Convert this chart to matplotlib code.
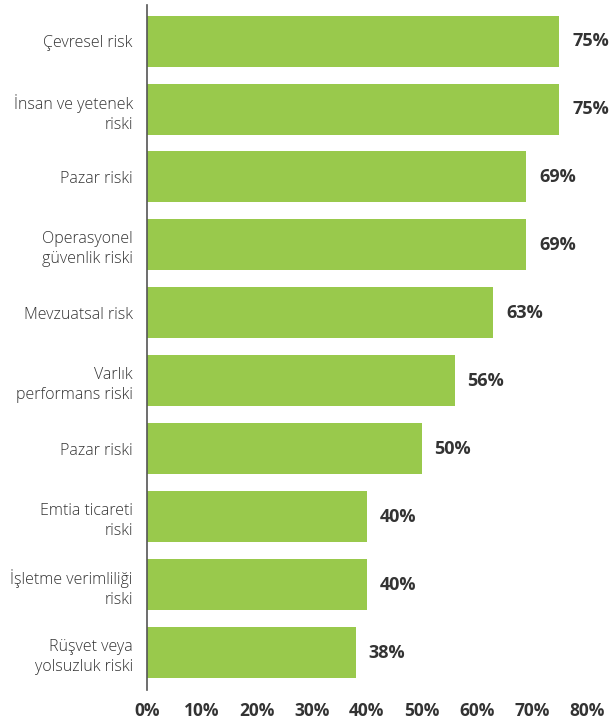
import matplotlib.pyplot as plt

# risk categories and share of respondents (%)
categories = [
    "Çevresel risk",
    "İnsan ve yetenek\nriski",
    "Pazar riski",
    "Operasyonel\ngüvenlik riski",
    "Mevzuatsal risk",
    "Varlık\nperformans riski",
    "Pazar riski",
    "Emtia ticareti\nriski",
    "İşletme verimliliği\nriski",
    "Rüşvet veya\nyolsuzluk riski",
]
values = [75, 75, 69, 69, 63, 56, 50, 40, 40, 38]
xticks = [0, 10, 20, 30, 40, 50, 60, 70, 80]

bar_color = "#99c94c"
text_color = "#333333"

plt.rcParams["font.family"] = ["Open Sans", "DejaVu Sans"]

fig = plt.figure(figsize=(6.14, 7.24), dpi=100)
ax = fig.add_axes([0.239, 0.047, 0.717, 0.946])

ypos = list(range(len(categories)))
ax.barh(ypos, values, height=0.75, color=bar_color)

for y, v in zip(ypos, values):
    ax.text(v + 2.3, y, f"{v}%", va="center", ha="left",
            fontsize=13, fontweight="bold", color=text_color)

ax.set_xlim(0, 80)
ax.set_ylim(len(categories) - 0.45, -0.53)
ax.set_yticks(ypos)
ax.set_yticklabels(categories, fontsize=11.5, fontweight="light",
                   color=text_color, linespacing=1.35)
ax.set_xticks(xticks)
ax.set_xticklabels([f"{t}%" for t in xticks], fontsize=12.5,
                   fontweight="bold", color=text_color)
ax.tick_params(axis="y", length=0, pad=10)
ax.tick_params(axis="x", length=0, pad=9)

for side in ["top", "right", "bottom"]:
    ax.spines[side].set_visible(False)
ax.spines["left"].set_color("#555555")
ax.spines["left"].set_linewidth(1.2)

fig.savefig("out.png", dpi=100)
